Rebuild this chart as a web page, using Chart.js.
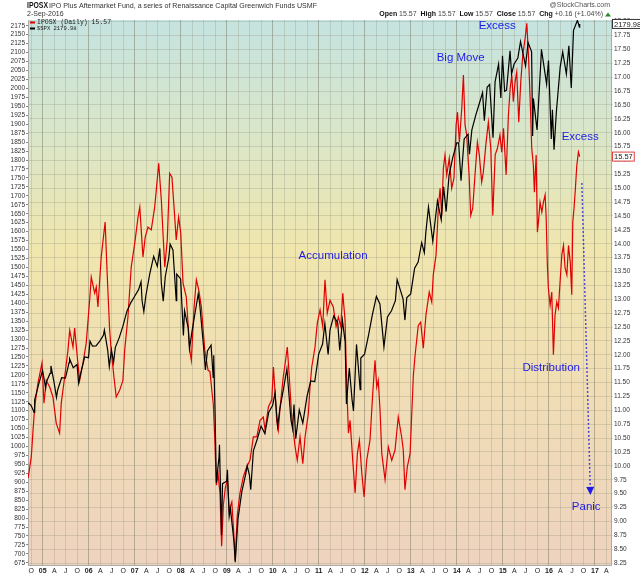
<!DOCTYPE html>
<html>
<head>
<meta charset="utf-8">
<title>IPOSX vs $SPX</title>
<script src="https://cdn.jsdelivr.net/npm/chart.js"></script>
<style>
  html, body { margin: 0; padding: 0; background: #fff; }
  #wrap { width: 640px; height: 576px; }
</style>
</head>
<body>
<div id="wrap"><canvas id="chart" width="640" height="576"></canvas></div>
<script>
// ---- data ----
const iposxDates = [
  '2004-09-07','2004-10-02','2004-10-16','2004-10-29','2004-11-24','2004-12-26',
  '2005-01-11','2005-01-29','2005-02-25','2005-03-23','2005-04-18','2005-05-15','2005-05-28','2005-06-24','2005-07-20','2005-08-03','2005-08-29','2005-09-11','2005-10-07','2005-10-21','2005-11-16','2005-12-12',
  '2006-01-08','2006-01-21','2006-02-17','2006-03-02','2006-03-15','2006-04-10','2006-05-01','2006-05-11','2006-05-27','2006-06-16','2006-06-28','2006-07-20','2006-08-07','2006-09-03','2006-09-29','2006-10-13','2006-11-08','2006-12-04',
  '2007-01-01','2007-01-27','2007-02-10','2007-03-07','2007-03-25','2007-04-16','2007-05-12','2007-06-08','2007-06-21','2007-07-10','2007-07-31','2007-08-13','2007-08-27','2007-09-16','2007-10-05','2007-10-23','2007-11-14','2007-11-26','2007-12-15',
  '2008-01-01','2008-01-19','2008-02-14','2008-03-13','2008-03-25','2008-04-16','2008-05-04','2008-05-23','2008-06-13','2008-07-10','2008-08-05','2008-08-20','2008-09-16','2008-09-28','2008-10-10','2008-10-24','2008-11-08','2008-11-21','2008-12-05','2008-12-20',
  '2009-01-06','2009-01-20','2009-02-10','2009-02-25','2009-03-09','2009-03-25','2009-04-15','2009-05-12','2009-06-08','2009-07-04','2009-07-31','2009-08-27','2009-09-22','2009-10-18','2009-11-01','2009-11-27','2009-12-24',
  '2010-01-06','2010-01-19','2010-02-01','2010-02-14','2010-02-28','2010-03-25','2010-04-16','2010-04-26','2010-05-12','2010-05-31','2010-06-27','2010-07-14','2010-08-05','2010-08-27','2010-09-14','2010-10-10','2010-10-23','2010-11-06','2010-12-02','2010-12-20',
  '2011-01-11','2011-02-01','2011-02-19','2011-03-09','2011-03-31','2011-04-26','2011-05-18','2011-06-05','2011-06-24','2011-07-10','2011-07-28','2011-08-11','2011-08-24','2011-09-06','2011-09-27','2011-10-16','2011-11-03','2011-11-19','2011-12-08','2011-12-26',
  '2012-01-16','2012-02-11','2012-03-04','2012-03-22','2012-04-05','2012-04-17','2012-05-01','2012-05-15','2012-06-10','2012-07-06','2012-08-02','2012-08-28','2012-09-23','2012-10-20','2012-11-02','2012-11-15','2012-12-04','2012-12-26',
  '2013-01-21','2013-02-04','2013-03-01','2013-03-20','2013-04-10','2013-05-01','2013-05-27','2013-06-16','2013-06-28','2013-07-20','2013-08-07','2013-08-21','2013-09-03','2013-09-16','2013-09-29','2013-10-13','2013-11-02','2013-11-21','2013-12-09','2013-12-26',
  '2014-01-06','2014-01-21','2014-02-09','2014-02-22','2014-03-07','2014-03-20','2014-04-08','2014-04-21','2014-05-07','2014-05-25','2014-06-13','2014-06-28','2014-07-17','2014-07-30','2014-08-21','2014-09-08','2014-09-27','2014-10-13','2014-11-01','2014-11-19','2014-12-09','2014-12-23',
  '2015-01-06','2015-01-27','2015-02-14','2015-02-28','2015-03-13','2015-03-25','2015-04-08','2015-04-21','2015-05-07','2015-05-23','2015-06-08','2015-06-27','2015-07-10','2015-07-23','2015-08-05','2015-08-18','2015-08-31','2015-09-08','2015-09-22','2015-10-02','2015-10-10','2015-10-23','2015-11-06','2015-11-19','2015-12-02','2015-12-10','2015-12-20','2015-12-28',
  '2016-01-11','2016-01-24','2016-02-06','2016-02-19','2016-03-04','2016-03-17','2016-03-30','2016-04-13','2016-04-26','2016-05-09','2016-05-23','2016-06-05','2016-06-19','2016-07-01','2016-07-09','2016-07-19','2016-07-30','2016-08-10','2016-08-23','2016-09-02'
];
const iposxValues = [
  9.78,10.16,10.64,11.06,11.49,11.85,
  11.13,11.54,11.42,11.24,10.77,10.59,11.13,11.60,12.08,12.44,12.14,12.48,11.85,11.54,11.85,12.21,
  12.98,13.40,13.11,13.22,12.86,13.76,14.19,14.39,13.47,12.44,12.08,11.60,11.24,11.36,11.54,12.08,12.68,13.58,
  14.01,14.48,14.66,13.76,14.12,14.30,14.25,14.66,14.97,15.45,14.78,14.19,13.58,14.07,15.27,15.20,14.48,14.07,14.48,
  14.19,13.29,13.04,12.08,11.90,12.86,13.35,13.17,12.86,12.08,11.72,11.70,11.10,10.45,9.65,9.85,9.50,8.55,9.30,9.60,
  9.75,9.20,9.35,8.80,8.30,9.10,9.50,9.80,9.98,10.10,10.52,10.52,10.82,10.88,10.64,11.06,11.19,
  11.78,11.31,10.82,10.64,11.06,11.60,11.96,12.14,11.60,10.88,10.34,10.10,10.52,10.04,10.52,10.94,11.42,11.78,12.14,12.57,
  12.81,12.51,13.35,12.75,12.98,12.86,12.51,12.68,12.51,13.11,12.63,11.42,10.59,10.82,10.10,9.51,10.22,10.46,9.87,9.44,
  10.10,10.46,11.31,11.90,11.42,11.54,11.00,10.22,9.75,10.34,10.10,10.28,10.88,10.52,10.28,9.57,9.98,10.22,
  11.63,12.00,12.53,12.59,12.12,12.72,13.13,12.95,13.44,13.80,14.64,15.00,14.51,15.36,15.60,15.24,15.54,15.00,15.18,16.14,
  16.37,15.83,16.44,17.04,16.14,15.96,15.24,14.51,14.64,15.24,15.83,15.60,15.11,15.29,15.83,16.19,15.72,14.51,15.60,15.72,15.96,15.65,
  16.08,15.24,16.32,16.80,17.04,16.56,16.92,17.09,16.19,16.92,17.40,17.71,17.97,17.40,16.62,15.72,15.41,14.93,15.60,14.21,14.39,14.75,14.57,14.75,14.88,14.51,13.62,13.20,
  12.89,13.13,12.00,12.72,12.95,12.84,13.31,13.80,13.97,13.56,13.44,13.97,13.67,13.08,14.39,14.64,15.00,15.41,15.65,15.57
];

const spxDates = [
  '2004-09-07','2004-09-30','2004-10-25','2004-10-29','2004-11-30','2004-12-31',
  '2005-01-24','2005-01-31','2005-02-28','2005-03-07','2005-03-31','2005-04-20','2005-04-29','2005-05-31','2005-06-30','2005-07-29','2005-08-02','2005-08-31','2005-09-30','2005-10-13','2005-10-31','2005-11-30','2005-12-30',
  '2006-01-11','2006-01-31','2006-02-28','2006-03-31','2006-04-28','2006-05-05','2006-05-31','2006-06-13','2006-06-30','2006-07-17','2006-07-31','2006-08-31','2006-09-29','2006-10-31','2006-11-30','2006-12-29',
  '2007-01-31','2007-02-20','2007-02-28','2007-03-14','2007-03-30','2007-04-30','2007-05-31','2007-06-29','2007-07-19','2007-07-31','2007-08-15','2007-08-31','2007-09-28','2007-10-09','2007-10-31','2007-11-26','2007-11-30','2007-12-31',
  '2008-01-22','2008-01-31','2008-02-29','2008-03-10','2008-03-31','2008-04-30','2008-05-19','2008-05-30','2008-06-30','2008-07-15','2008-07-31','2008-08-29','2008-09-15','2008-09-19','2008-09-29','2008-10-10','2008-10-31','2008-11-04','2008-11-20','2008-11-28','2008-12-31',
  '2009-01-06','2009-01-20','2009-01-30','2009-02-27','2009-03-09','2009-03-31','2009-04-30','2009-05-29','2009-06-12','2009-06-30','2009-07-10','2009-07-31','2009-08-31','2009-09-30','2009-10-30','2009-11-30','2009-12-31',
  '2010-01-19','2010-02-08','2010-02-26','2010-03-31','2010-04-23','2010-05-25','2010-06-07','2010-06-18','2010-07-02','2010-07-30','2010-08-27','2010-09-30','2010-10-29','2010-11-30','2010-12-31',
  '2011-01-31','2011-02-18','2011-03-16','2011-03-31','2011-04-29','2011-05-31','2011-06-16','2011-06-30','2011-07-07','2011-07-29','2011-08-08','2011-08-31','2011-09-22','2011-10-03','2011-10-27','2011-11-25','2011-11-30','2011-12-30',
  '2012-01-31','2012-02-29','2012-04-02','2012-04-30','2012-06-01','2012-06-29','2012-07-31','2012-08-31','2012-09-14','2012-10-31','2012-11-15','2012-11-30','2012-12-31',
  '2013-01-31','2013-02-28','2013-03-28','2013-04-18','2013-04-30','2013-05-21','2013-06-24','2013-07-31','2013-08-30','2013-09-18','2013-10-08','2013-10-31','2013-11-29','2013-12-31',
  '2014-01-15','2014-02-03','2014-02-28','2014-03-31','2014-04-11','2014-04-30','2014-05-30','2014-06-30','2014-07-24','2014-08-07','2014-08-29','2014-09-18','2014-10-15','2014-10-31','2014-11-28','2014-12-16','2014-12-29',
  '2015-01-15','2015-01-30','2015-02-27','2015-03-11','2015-03-31','2015-04-30','2015-05-21','2015-06-30','2015-07-20','2015-08-17','2015-08-25','2015-08-31','2015-09-29','2015-10-30','2015-11-03','2015-12-14','2015-12-29',
  '2016-01-20','2016-01-29','2016-02-11','2016-02-29','2016-03-31','2016-04-20','2016-05-19','2016-06-08','2016-06-27','2016-07-15','2016-08-15','2016-08-31','2016-09-02'
];
const spxValues = [
  1122,1115,1095,1130,1174,1212,
  1163,1181,1204,1225,1181,1137,1157,1192,1191,1234,1245,1220,1229,1177,1207,1250,1248,
  1294,1280,1281,1295,1311,1325,1270,1223,1270,1235,1277,1304,1336,1378,1401,1418,
  1438,1460,1407,1377,1421,1482,1531,1503,1553,1455,1406,1474,1527,1565,1549,1407,1481,1468,
  1310,1379,1331,1273,1323,1386,1426,1400,1280,1214,1267,1283,1193,1255,1106,899,969,1005,752,896,903,
  935,805,826,735,677,798,873,919,946,919,879,988,1021,1057,1036,1096,1115,
  1150,1056,1105,1169,1217,1074,1050,1117,1022,1102,1065,1141,1183,1181,1258,
  1286,1343,1257,1326,1364,1345,1268,1321,1353,1292,1119,1219,1130,1099,1285,1159,1247,1258,
  1312,1366,1419,1398,1278,1362,1379,1407,1466,1412,1353,1416,1426,
  1498,1515,1569,1541,1598,1669,1573,1686,1633,1725,1656,1757,1806,1848,
  1848,1742,1859,1872,1816,1884,1924,1960,1988,1910,2003,2011,1862,2018,2068,1973,2091,
  1992,1995,2105,2040,2068,2085,2131,2063,2128,2102,1867,1972,1884,2079,2109,2012,2078,
  1859,1940,1829,1932,2060,2102,2040,2119,2001,2162,2190,2171,2180
];

const quarterLetters = ['', 'A', 'J', 'O'];
const iposxLast = '15.57';
const spxLast = '2179.98';

// text notes placed in data space (year, IPOSX value)
const notes = [
  { text: 'Excess', x: 2014.876, y: 17.92 },
  { text: 'Big Move', x: 2014.083, y: 17.35 },
  { text: 'Accumulation', x: 2011.311, y: 13.78 },
  { text: 'Excess', x: 2016.680, y: 15.93 },
  { text: 'Distribution', x: 2016.050, y: 11.77 },
  { text: 'Panic', x: 2016.811, y: 9.26 }
];
const panicArrow = [ { x: 2016.717, y: 15.09 }, { x: 2016.898, y: 9.62 } ];

// ---- helpers ----
function toYear(s) {
  const [y, m, d] = s.split('-').map(Number);
  const a = Date.UTC(y, 0, 1), b = Date.UTC(y + 1, 0, 1);
  return y + (Date.UTC(y, m - 1, d) - a) / (b - a);
}
function isYearTick(v) { return Math.round(v * 4) % 4 === 0; }

const SANS = '"Liberation Sans", Arial, sans-serif';
const MONO = '"Liberation Mono", "DejaVu Sans Mono", monospace';

const overlay = {
  id: 'overlay',
  beforeDraw(chart) {
    const { ctx, chartArea: a } = chart;
    ctx.save();
    ctx.fillStyle = '#fff';
    ctx.fillRect(0, 0, chart.width, chart.height);
    const g = ctx.createLinearGradient(0, a.top, 0, a.bottom);
    g.addColorStop(0, '#c5e3e0');
    g.addColorStop(0.2, '#d9e6ca');
    g.addColorStop(0.42, '#f0e6ae');
    g.addColorStop(0.68, '#f0ddb5');
    g.addColorStop(1, '#eed3bf');
    ctx.fillStyle = g;
    ctx.fillRect(a.left, a.top, a.right - a.left, a.bottom - a.top);
    ctx.restore();
  },
  afterDraw(chart) {
    const { ctx, chartArea: a, scales } = chart;
    ctx.save();
    ctx.textBaseline = 'middle';

    // header, left
    ctx.fillStyle = '#111';
    ctx.font = 'bold 9.5px ' + SANS;
    ctx.fillText('IPOSX', 27, 5.5, 21);
    ctx.fillStyle = '#333';
    ctx.font = '7.5px ' + SANS;
    ctx.fillText('IPO Plus Aftermarket Fund, a series of Renaissance Capital Greenwich Funds USMF', 49, 5.5, 268);
    ctx.font = '7px ' + SANS;
    ctx.fillText('2-Sep-2016', 27, 14.5);

    // header, right
    ctx.textAlign = 'right';
    ctx.fillStyle = '#555';
    ctx.font = '7px ' + SANS;
    ctx.fillText('@StockCharts.com', 610, 5.5);
    ctx.textAlign = 'left';
    const parts = [['Open', 1], [' 15.57  ', 0], ['High', 1], [' 15.57  ', 0], ['Low', 1], [' 15.57  ', 0],
                   ['Close', 1], [' 15.57  ', 0], ['Chg', 1], [' +0.16 (+1.04%)', 0]];
    let w = 0;
    parts.forEach(p => { ctx.font = (p[1] ? 'bold ' : '') + '7px ' + SANS; w += ctx.measureText(p[0]).width; });
    let px = 603 - w;
    parts.forEach(p => {
      ctx.font = (p[1] ? 'bold ' : '') + '7px ' + SANS;
      ctx.fillStyle = p[1] ? '#111' : '#444';
      ctx.fillText(p[0], px, 14.5);
      px += ctx.measureText(p[0]).width;
    });
    ctx.fillStyle = '#2a8a2a';
    ctx.beginPath();
    ctx.moveTo(605, 16.5); ctx.lineTo(611, 16.5); ctx.lineTo(608, 12.5); ctx.closePath();
    ctx.fill();

    // legend
    ctx.lineWidth = 2;
    ctx.strokeStyle = '#e00000';
    ctx.beginPath(); ctx.moveTo(a.left + 2, 22.5); ctx.lineTo(a.left + 7, 22.5); ctx.stroke();
    ctx.strokeStyle = '#000';
    ctx.beginPath(); ctx.moveTo(a.left + 2, 28.5); ctx.lineTo(a.left + 7, 28.5); ctx.stroke();
    ctx.fillStyle = '#222';
    ctx.font = '6.5px ' + MONO;
    ctx.fillText('IPOSX (Daily) ' + iposxLast, a.left + 9, 22.5);
    ctx.font = '5.5px ' + MONO;
    ctx.fillText('$SPX ' + spxLast, a.left + 9, 28.5);

    // last value boxes on the right axis
    function tag(text, y, border) {
      ctx.font = '7.5px ' + SANS;
      const tw = ctx.measureText(text).width + 3;
      ctx.fillStyle = '#fff';
      ctx.fillRect(a.right + 1, y - 5, tw, 10);
      ctx.lineWidth = 1;
      ctx.strokeStyle = border;
      ctx.strokeRect(a.right + 1.5, y - 4.5, tw, 9);
      ctx.fillStyle = '#222';
      ctx.fillText(text, a.right + 3, y + 0.5);
    }
    tag(spxLast, scales.yL.getPixelForValue(Number(spxLast)), '#333');
    tag(iposxLast, scales.yR.getPixelForValue(Number(iposxLast)), '#e04040');

    // notes
    ctx.textAlign = 'center';
    ctx.fillStyle = '#1c1ce6';
    ctx.font = '11.5px ' + SANS;
    notes.forEach(n => {
      ctx.fillText(n.text, scales.x.getPixelForValue(n.x), scales.yR.getPixelForValue(n.y));
    });

    // dotted arrow down to "Panic"
    const p0 = { x: scales.x.getPixelForValue(panicArrow[0].x), y: scales.yR.getPixelForValue(panicArrow[0].y) };
    const p1 = { x: scales.x.getPixelForValue(panicArrow[1].x), y: scales.yR.getPixelForValue(panicArrow[1].y) };
    ctx.strokeStyle = '#1c1ce6';
    ctx.lineWidth = 1.5;
    ctx.setLineDash([1.5, 2.5]);
    ctx.beginPath(); ctx.moveTo(p0.x, p0.y); ctx.lineTo(p1.x, p1.y); ctx.stroke();
    ctx.setLineDash([]);
    const ang = Math.atan2(p1.y - p0.y, p1.x - p0.x);
    ctx.beginPath();
    ctx.moveTo(p1.x + 8 * Math.cos(ang), p1.y + 8 * Math.sin(ang));
    ctx.lineTo(p1.x + 4 * Math.cos(ang + Math.PI / 2), p1.y + 4 * Math.sin(ang + Math.PI / 2));
    ctx.lineTo(p1.x + 4 * Math.cos(ang - Math.PI / 2), p1.y + 4 * Math.sin(ang - Math.PI / 2));
    ctx.closePath();
    ctx.fillStyle = '#1c1ce6';
    ctx.fill();
    ctx.restore();
  }
};

const xStart = 2004.68, xEnd = 2017.35;

new Chart(document.getElementById('chart'), {
  type: 'line',
  data: {
    datasets: [
      {
        label: 'IPOSX (Daily)',
        data: iposxDates.map((d, i) => ({ x: toYear(d), y: iposxValues[i] })),
        yAxisID: 'yR',
        borderColor: '#e00000',
        borderWidth: 1.2,
        pointRadius: 0,
        tension: 0,
        order: 1
      },
      {
        label: '$SPX',
        data: spxDates.map((d, i) => ({ x: toYear(d), y: spxValues[i] })),
        yAxisID: 'yL',
        borderColor: '#000',
        borderWidth: 1.2,
        pointRadius: 0,
        tension: 0,
        order: 0
      }
    ]
  },
  options: {
    responsive: false,
    animation: false,
    layout: { padding: { top: 20, left: 0, right: 0, bottom: 0 } },
    plugins: { legend: { display: false }, tooltip: { enabled: false } },
    scales: {
      x: {
        type: 'linear',
        min: xStart,
        max: xEnd,
        afterBuildTicks(s) {
          const t = [];
          for (let k = Math.ceil(xStart * 4); k <= Math.floor(xEnd * 4); k++) t.push({ value: k / 4 });
          s.ticks = t;
        },
        afterFit(s) { s.height = 11; },
        border: { display: true, color: '#aaa' },
        grid: {
          drawTicks: false,
          color: c => (c.tick && isYearTick(c.tick.value)) ? 'rgba(110,110,90,0.45)' : 'rgba(140,140,120,0.28)'
        },
        ticks: {
          autoSkip: false,
          maxRotation: 0,
          padding: 2,
          color: '#222',
          font: c => ({ family: SANS, size: 7, weight: (c.tick && isYearTick(c.tick.value)) ? 'bold' : 'normal' }),
          callback(v) {
            const k = Math.round(v * 4);
            const q = ((k % 4) + 4) % 4;
            return q === 0 ? String(Math.floor(k / 4) % 100).padStart(2, '0') : quarterLetters[q];
          }
        }
      },
      yL: {
        type: 'linear',
        position: 'left',
        min: 669,
        max: 2191,
        afterBuildTicks(s) {
          const t = [];
          for (let v = 675; v <= 2175; v += 25) t.push({ value: v });
          s.ticks = t;
        },
        afterFit(s) { s.width = 28; },
        border: { display: true, color: '#aaa' },
        grid: { drawOnChartArea: false, tickLength: 2, color: '#888' },
        ticks: {
          autoSkip: false,
          padding: 1,
          color: '#333',
          font: { family: SANS, size: 6.5 },
          callback: v => String(Math.round(v))
        }
      },
      yR: {
        type: 'linear',
        position: 'right',
        min: 8.214,
        max: 18.03,
        afterBuildTicks(s) {
          const t = [];
          for (let k = 33; k <= 72; k++) t.push({ value: k / 4 });
          s.ticks = t;
        },
        afterFit(s) { s.width = 29; },
        border: { display: true, color: '#aaa' },
        grid: { tickLength: 2, color: 'rgba(140,140,120,0.28)' },
        ticks: {
          autoSkip: false,
          padding: 1,
          color: '#333',
          font: { family: SANS, size: 6.5 },
          callback: v => Number(v).toFixed(2)
        }
      }
    }
  },
  plugins: [overlay]
});
</script>
</body>
</html>
